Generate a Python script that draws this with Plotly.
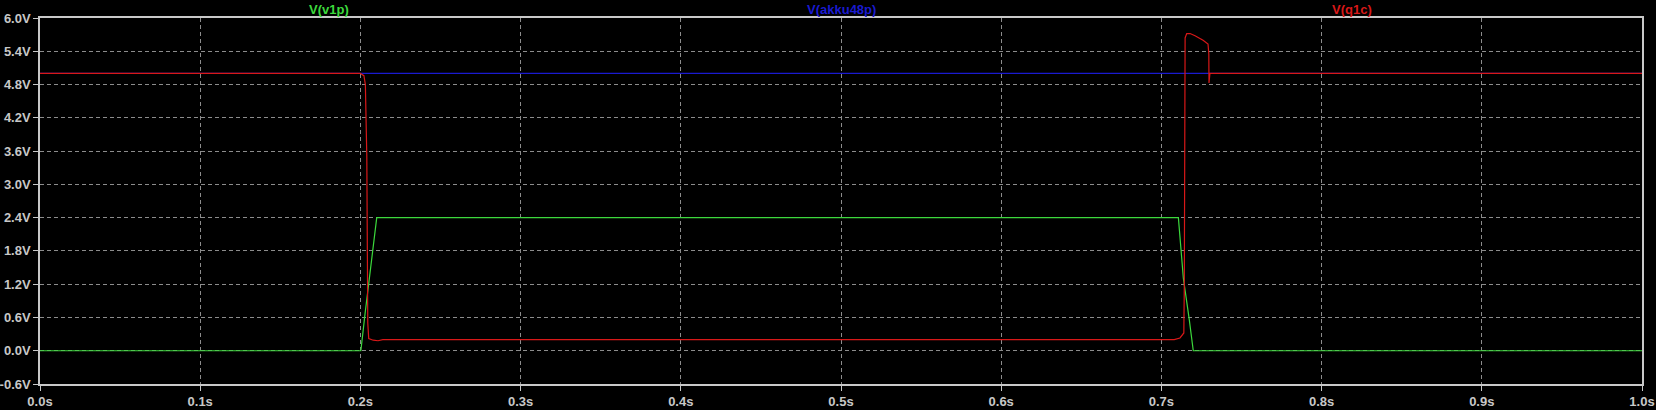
from plotly import graph_objects as go

# time axis (s) and traces (V)
t_v1p = [0.0, 0.2003, 0.2027, 0.2102, 0.7106, 0.7137, 0.7174, 0.7199, 1.0]
v_v1p = [0.0, 0.0, 0.62, 2.40, 2.40, 1.31, 0.56, 0.0, 0.0]

t_akku = [0.0, 1.0]
v_akku = [5.0, 5.0]

t_q1c = [0.0, 0.2, 0.2022, 0.2031, 0.2040, 0.2046, 0.2052, 0.2080, 0.2110, 0.2140,
         0.2300, 0.5000, 0.7080, 0.7116, 0.7140, 0.7143, 0.7148, 0.7158, 0.7179,
         0.7210, 0.7260, 0.7291, 0.7296, 0.7297, 0.7303, 1.0]
v_q1c = [5.0, 5.0, 4.96, 4.80, 3.50, 0.50, 0.22, 0.19, 0.18, 0.20,
         0.20, 0.20, 0.20, 0.23, 0.32, 1.20, 5.64, 5.72, 5.72,
         5.68, 5.60, 5.53, 5.35, 4.83, 5.0, 5.0]

x_ticks = [0.0, 0.1, 0.2, 0.3, 0.4, 0.5, 0.6, 0.7, 0.8, 0.9, 1.0]
y_ticks = [-0.6, 0.0, 0.6, 1.2, 1.8, 2.4, 3.0, 3.6, 4.2, 4.8, 5.4, 6.0]

GREEN = '#3cd83c'
BLUE = '#1a1ad0'
RED = '#d81818'
GRID = '#8c8c8c'
FRAME = '#c8c8c8'

fig = go.Figure()

fig.add_trace(go.Scatter(x=t_v1p, y=v_v1p, mode='lines',
                         line=dict(color=GREEN, width=1.2), name='V(v1p)'))
fig.add_trace(go.Scatter(x=t_akku, y=v_akku, mode='lines',
                         line=dict(color=BLUE, width=1.2), name='V(akku48p)'))
fig.add_trace(go.Scatter(x=t_q1c, y=v_q1c, mode='lines',
                         line=dict(color=RED, width=1.2), name='V(q1c)'))

labels = [('V(v1p)', GREEN, 307), ('V(akku48p)', BLUE, 841), ('V(q1c)', RED, 1374)]
for txt, col, px in labels:
    fig.add_annotation(x=(px - 40) / 1602, y=1.0, xref='paper', yref='paper',
                       text='<b>' + txt + '</b>', showarrow=False,
                       yanchor='bottom', yshift=-1,
                       font=dict(color=col, size=13, family='Liberation Sans'))

axis_common = dict(showline=True, linecolor=FRAME, linewidth=1.5, mirror=True,
                   showgrid=True, gridcolor=GRID, griddash='4px,3px', gridwidth=1,
                   zeroline=False, ticks='outside', ticklen=5, tickcolor=FRAME,
                   tickwidth=1, automargin=False,
                   tickfont=dict(color=FRAME, size=13, family='Liberation Sans'))

fig.update_xaxes(range=[0, 1], tickvals=x_ticks,
                 ticktext=['<b>%.1fs</b>' % v for v in x_ticks], **axis_common)
fig.update_yaxes(range=[-0.6, 6.0], tickvals=y_ticks,
                 ticktext=['<b>%.1fV</b>' % v for v in y_ticks], **axis_common)

fig.update_layout(width=1656, height=410,
                  margin=dict(l=40, r=14, t=18, b=26),
                  paper_bgcolor='black', plot_bgcolor='black',
                  showlegend=False)

# drop the default 8px page margin so the figure sits in the corner
fig.write_html("out.html",
               config={'displayModeBar': False},
               post_script="document.body.style.margin='0';"
                           "document.body.style.background='black';")
